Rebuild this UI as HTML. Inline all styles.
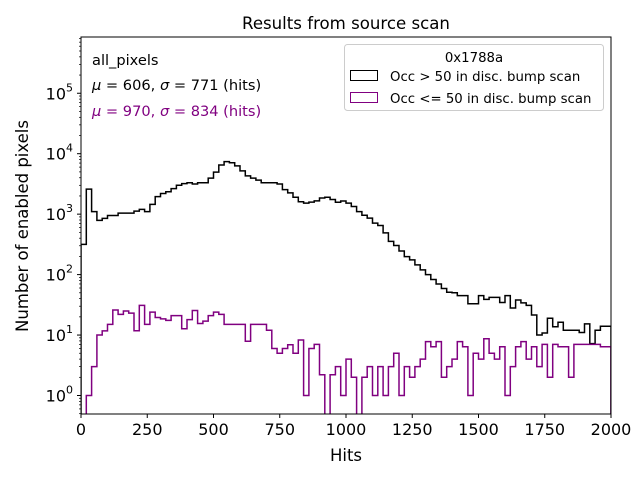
<!DOCTYPE html>
<html><head><meta charset="utf-8"><style>
body{margin:0;background:#fff;}
svg text{font-family:"DejaVu Sans","Liberation Sans",sans-serif;}
</style></head><body>
<svg id="chart" width="640" height="480" xmlns="http://www.w3.org/2000/svg">
<rect width="640" height="480" fill="#fff"/>
<text x="346" y="29" font-size="16.6" text-anchor="middle">Results from source scan</text>
<text x="346" y="461" font-size="16.5" text-anchor="middle">Hits</text>
<text x="28" y="226" font-size="16.5" text-anchor="middle" transform="rotate(-90 28 226)">Number of enabled pixels</text>
<g id="plot"></g>
<g id="axes"></g>
<text x="92" y="65" font-size="14.6">all_pixels</text>
<text x="92" y="90" font-size="14.6"><tspan font-style="italic">μ</tspan> = 606, <tspan font-style="italic">σ</tspan> = 771 (hits)</text>
<text x="92" y="116" font-size="14.6" fill="#800080"><tspan font-style="italic">μ</tspan> = 970, <tspan font-style="italic">σ</tspan> = 834 (hits)</text>
<g>
<rect x="344.5" y="44.5" width="259" height="66" rx="3" fill="#fff" fill-opacity="0.8" stroke="#ccc"/>
<text x="474" y="62" font-size="13.3" text-anchor="middle">0x1788a</text>
<g><rect x="350.5" y="70.5" width="27" height="10" fill="none" stroke="#000"/><text x="390" y="81" font-size="13.3">Occ &gt; 50 in disc. bump scan</text></g>
<g><rect x="350.5" y="92.5" width="27" height="10" fill="none" stroke="#800080"/><text x="390" y="103" font-size="13.3">Occ &lt;= 50 in disc. bump scan</text></g>
</g>
</svg>
<script>
const binWidth = 20;
const occHigh = [316,2600,1100,790,850,950,950,1040,1040,1040,1120,1200,1100,1450,1950,2200,2350,2650,3000,3200,3300,3150,3300,3300,3950,4950,6500,7400,7100,6300,5200,4300,3950,3650,3300,3300,3300,3150,2550,2250,1900,1600,1520,1580,1660,1850,1900,1750,1570,1650,1520,1340,1100,960,860,710,650,490,355,303,246,198,175,145,120,100,83,70,59,51,50,45,45,33,33,45,39,42,42,34.5,45,28,38,34,31,21.5,10,10.8,19,13.7,16.3,12,12,12,11,15.3,7.2,12,14,14];
const occLow = [0,1,3,10,11.7,15,26,22,25,23,11.8,31,15,24,19.5,18.5,17.5,21,21,12.7,18,25.5,15.5,17,21,24,22,15,15,15,15,7.9,15,15,15,12,6,5,6,6.9,5,8.3,1,6,7,2.2,0,2.2,3,1,4,2,0,2,3,1,3,1,3,5,1,3,2,3,4,7.8,6.4,7.8,2,3,4,7.8,6.4,1,5,4,8.7,5,4,6.4,1,3,6.4,7.8,4,6.4,3,7,2,7,6.4,6.4,2,7,7,7,7,7,6.4,6.4];
const xTicks = [0,250,500,750,1000,1250,1500,1750,2000];
const yDecades = [0,1,2,3,4,5];
const L=81,R=611,T=37,B=414, Y0=395.5, DEC=60.45;
const xs = v => L + (v/2000)*(R-L);
const ys = v => v<=0 ? B+5 : Y0 - Math.log10(v)*DEC;
const NS="http://www.w3.org/2000/svg";
function mk(t,a,p){const e=document.createElementNS(NS,t);for(const k in a)e.setAttribute(k,a[k]);p.appendChild(e);return e;}
const plot=document.getElementById('plot'), axes=document.getElementById('axes');
const clip=mk('clipPath',{id:'cp'},plot); mk('rect',{x:L,y:T,width:R-L,height:B-T},clip);
function step(vals,color,name){
  let d='M'+xs(0)+','+(B+5);
  vals.forEach((v,i)=>{const y=ys(v);d+=' L'+xs(i*binWidth)+','+y+' L'+xs((i+1)*binWidth)+','+y;});
  d+=' L'+xs(vals.length*binWidth)+','+(B+5);
  const p=mk('path',{d:d,fill:'none',stroke:color,'stroke-width':1.5,'clip-path':'url(#cp)'},plot);
  
  
}
step(occHigh,'#000','series-occ-high');
step(occLow,'#800080','series-occ-low');
const frame=mk('rect',{x:L,y:T,width:R-L,height:B-T,fill:'none',stroke:'#000','stroke-width':1},axes);


xTicks.forEach(t=>{
  mk('line',{x1:xs(t),x2:xs(t),y1:B,y2:B+4,stroke:'#000'},axes);
  const tx=mk('text',{x:xs(t),y:B+21,'font-size':16,'text-anchor':'middle'},axes);
  tx.textContent=t;
  
  
});
for(let d=-1;d<=5;d++){for(let m=1;m<10;m++){const v=m*Math.pow(10,d);const y=ys(v);if(y<T||y>B)continue;
  mk('line',{x1:L-(m===1?4:2),x2:L,y1:y,y2:y,stroke:'#000','stroke-width':m===1?1:0.7},axes);}}
yDecades.forEach(d=>{
  const y=ys(Math.pow(10,d));
  const tx=mk('text',{x:L-8,y:y+6,'font-size':16,'text-anchor':'end'},axes);
  
  
  tx.innerHTML='10<tspan dy="-8" font-size="11">'+d+'</tspan>';
});
</script>
</body></html>
